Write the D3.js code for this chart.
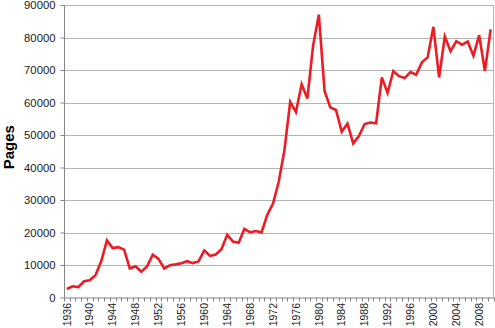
<!DOCTYPE html>
<html><head><meta charset="utf-8">
<script src="https://cdn.jsdelivr.net/npm/d3@7"></script>
<style>
html,body{margin:0;padding:0;background:#fff;}
svg{display:block;font-family:Arial,"Liberation Sans",sans-serif;}
</style></head>
<body>
<svg id="c" width="495" height="328"></svg>
<script>
const years = d3.range(1936, 2011);
const pages = [2620,3450,3194,5007,5307,6877,11134,17553,15194,15508,
14736,8902,9608,7952,9562,13175,11896,8912,9910,10196,
10528,11156,10579,11116,14479,12792,13226,14842,19304,17206,
16850,21088,20072,20464,20036,25447,28924,35592,45422,60221,
57072,65603,61261,77498,87012,63554,58494,57704,50998,53480,
47418,49654,53376,53842,53620,67716,62928,69684,68108,67518,
69368,68530,72356,73880,83294,67702,80332,75798,78852,77777,
78724,74408,80700,69644,82480];
const yTicks = [0,10000,20000,30000,40000,50000,60000,70000,80000,90000];
const xLabelYears = d3.range(1936, 2011, 4);
const yTitle = "Pages";

const L = 64, R = 493.5, T = 5, B = 297.5;
const svg = d3.select("#c");
const x = d3.scaleBand().domain(years).range([L, R]).padding(0);
const y = d3.scaleLinear().domain([0, 90000]).range([B, T]);

// gridlines
svg.append("g").selectAll("line").data(yTicks.slice(1)).join("line")
  .attr("x1", L).attr("x2", R)
  .attr("y1", d => Math.round(y(d)) + 0.5).attr("y2", d => Math.round(y(d)) + 0.5)
  .attr("stroke", "#b4b4b4").attr("stroke-width", 1);
// right border
svg.append("line").attr("x1", R).attr("x2", R).attr("y1", T).attr("y2", B)
  .attr("stroke", "#b4b4b4").attr("stroke-width", 1);

// y axis
const yAxis = d3.axisLeft(y).tickValues(yTicks).tickSize(4).tickPadding(5).tickFormat(d3.format("d"));
const gy = svg.append("g").attr("transform", `translate(${L + 0.5},0)`).call(yAxis);
gy.select(".domain").attr("stroke", "#868686").attr("d", `M0,${T}V${B}`);
gy.selectAll(".tick line").attr("stroke", "#868686");
gy.selectAll(".tick text").attr("font-size", "11.3px").attr("fill", "#1a1a1a")
  .attr("font-family", "Arial, 'Liberation Sans', sans-serif");

// x axis boundary ticks
const bounds = years.map(d => x(d)).concat([R]);
svg.append("g").selectAll("line").data(bounds).join("line")
  .attr("x1", d => Math.round(d) + 0.5).attr("x2", d => Math.round(d) + 0.5)
  .attr("y1", B).attr("y2", B + 4).attr("stroke", "#868686");
svg.append("line").attr("x1", L).attr("x2", R + 0.5).attr("y1", B + 0.5).attr("y2", B + 0.5)
  .attr("stroke", "#868686");

// x labels
svg.append("g").selectAll("text").data(xLabelYears).join("text")
  .attr("transform", d => `translate(${x(d) + x.bandwidth() / 2},303) rotate(-90)`)
  .attr("text-anchor", "end").attr("dy", "0.35em")
  .attr("font-size", "10.5px").attr("fill", "#1a1a1a")
  .text(d => d);

// y title
svg.append("text").attr("transform", `translate(13.5,${(T + B) / 2 - 4}) rotate(-90)`)
  .attr("text-anchor", "middle").attr("font-weight", "bold").attr("font-size", "15px")
  .attr("fill", "#000").text(yTitle);

// line
const line = d3.line().x((d, i) => x(years[i]) + x.bandwidth() / 2).y(d => y(d));
svg.append("path").datum(pages).attr("d", line)
  .attr("fill", "none").attr("stroke", "#ed1c24").attr("stroke-width", 2.6)
  .attr("stroke-linejoin", "miter").attr("stroke-miterlimit", 4);
</script>
</body></html>
